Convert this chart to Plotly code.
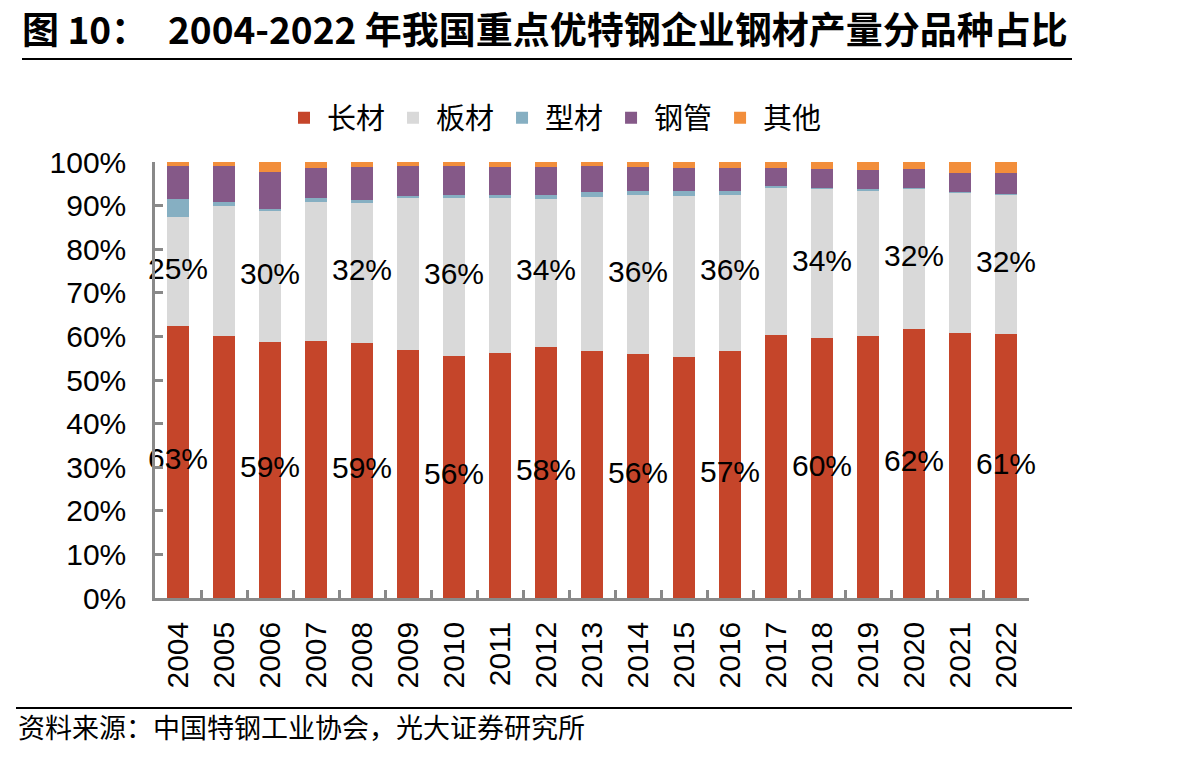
import plotly.graph_objects as go

# ---------------- data ----------------
years = ["2004", "2005", "2006", "2007", "2008", "2009", "2010", "2011", "2012", "2013",
         "2014", "2015", "2016", "2017", "2018", "2019", "2020", "2021", "2022"]

long_products = [62.5, 60.2, 58.8, 59.0, 58.6, 56.9, 55.6, 56.3, 57.6, 56.7,
                 56.0, 55.3, 56.6, 60.4, 59.6, 60.2, 61.8, 60.8, 60.5]
plate = [25.0, 29.8, 30.0, 31.9, 32.1, 34.9, 36.2, 35.5, 34.0, 35.3,
         36.4, 37.0, 35.9, 33.7, 34.3, 33.2, 32.1, 32.2, 32.0]
section = [4.0, 0.9, 0.4, 0.9, 0.7, 0.5, 0.7, 0.7, 0.9, 1.2,
           1.0, 1.1, 0.9, 0.5, 0.2, 0.5, 0.2, 0.2, 0.2]
pipe = [7.5, 8.1, 8.6, 6.9, 7.5, 6.7, 6.5, 6.4, 6.4, 5.8,
        5.5, 5.3, 5.3, 4.1, 4.3, 4.3, 4.3, 4.3, 4.8]
other = [1.0, 1.0, 2.2, 1.3, 1.1, 1.0, 1.0, 1.1, 1.1, 1.0,
         1.1, 1.3, 1.3, 1.3, 1.6, 1.8, 1.6, 2.5, 2.5]

series_names = ["长材", "板材", "型材", "钢管", "其他"]
colors = ["#C5452A", "#D9D9D9", "#86AFC2", "#855988", "#F28E3B"]

label_years = ["2004", "2006", "2008", "2010", "2012", "2014", "2016", "2018", "2020", "2022"]
long_labels = ["63%", "59%", "59%", "56%", "58%", "56%", "57%", "60%", "62%", "61%"]
plate_labels = ["25%", "30%", "32%", "36%", "34%", "36%", "36%", "34%", "32%", "32%"]

title_prefix = "图 10："
title_main = "2004-2022 年我国重点优特钢企业钢材产量分品种占比"
source_text = "资料来源：中国特钢工业协会，光大证券研究所"

# ---------------- layout helpers ----------------
W, H = 1204, 757
L, R, T, B = 155, 1029, 162, 598


def px_x(px):
    return (px - L) / (R - L)


def px_y(py):
    return (B - py) / (B - T)


NUM_FONT = "Liberation Sans, Arial, sans-serif"
CJK_FONT = "Noto Sans CJK SC, sans-serif"
AXIS_GRAY = "#898989"

fig = go.Figure()
for name, vals, col in zip(series_names, [long_products, plate, section, pipe, other], colors):
    fig.add_trace(go.Bar(x=years, y=vals, name=name,
                         marker=dict(color=col, line=dict(width=0)),
                         hoverinfo="x+y+name"))

# data labels (centered in segments)
idx = [years.index(y) for y in label_years]
long_mid = [long_products[i] / 2 for i in idx]
plate_mid = [long_products[i] + plate[i] / 2 for i in idx]
for ys, txt in [(long_mid, long_labels), (plate_mid, plate_labels)]:
    fig.add_trace(go.Scatter(x=label_years, y=ys, text=txt, mode="text",
                             textposition="middle center",
                             textfont=dict(family=NUM_FONT, size=30, color="black"),
                             showlegend=False, hoverinfo="skip", cliponaxis=False))

fig.update_layout(
    width=W, height=H, autosize=False,
    margin=dict(l=L, r=W - R, t=T, b=H - B),
    barmode="stack", bargap=0.52,
    plot_bgcolor="white", paper_bgcolor="white",
    legend=dict(orientation="h", x=px_x(554), xanchor="center", y=px_y(118), yanchor="middle",
                font=dict(family=CJK_FONT, size=29, color="black"),
                itemwidth=36, traceorder="normal", bgcolor="rgba(0,0,0,0)"),
    xaxis=dict(type="category", range=[-0.5, len(years) - 0.5],
               showline=True, linecolor=AXIS_GRAY, linewidth=2.5,
               ticks="inside", tickson="boundaries", ticklen=8, tickwidth=2.5, tickcolor=AXIS_GRAY,
               tickangle=-90, tickfont=dict(family=NUM_FONT, size=30, color="black"),
               showgrid=False, zeroline=False, ticklabelstandoff=9),
    yaxis=dict(range=[0, 100], dtick=10, ticksuffix="%", showline=True, linecolor=AXIS_GRAY,
               linewidth=2.5, ticks="inside", ticklen=8, tickwidth=2.5, tickcolor=AXIS_GRAY,
               tickfont=dict(family=NUM_FONT, size=30, color="black"),
               showgrid=False, zeroline=False, ticklabelstandoff=20),
    font=dict(family=NUM_FONT, color="black"),
)

# title
fig.add_annotation(text=f"<b>{title_prefix}</b>", xref="paper", yref="paper",
                   x=px_x(20), y=px_y(28), xanchor="left", yanchor="middle", showarrow=False,
                   font=dict(family=CJK_FONT, size=37, color="black"))
fig.add_annotation(text=f"<b>{title_main}</b>", xref="paper", yref="paper",
                   x=px_x(166), y=px_y(28), xanchor="left", yanchor="middle", showarrow=False,
                   font=dict(family=CJK_FONT, size=37, color="black"))
# source
fig.add_annotation(text=source_text, xref="paper", yref="paper",
                   x=px_x(16), y=px_y(726), xanchor="left", yanchor="middle", showarrow=False,
                   font=dict(family=CJK_FONT, size=27, color="black"))
# rules
fig.add_shape(type="line", xref="paper", yref="paper", x0=px_x(22), x1=px_x(1072),
              y0=px_y(59), y1=px_y(59), line=dict(color="black", width=2))
fig.add_shape(type="line", xref="paper", yref="paper", x0=px_x(16), x1=px_x(1072),
              y0=px_y(708), y1=px_y(708), line=dict(color="black", width=2))

fig.write_html("out.html")
